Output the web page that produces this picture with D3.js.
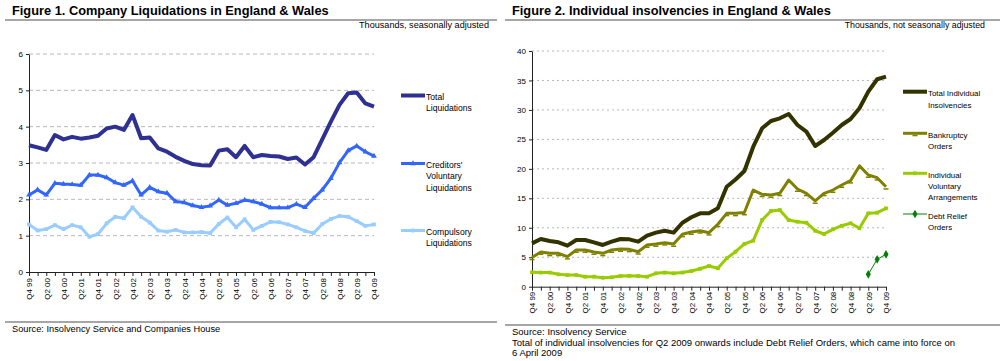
<!DOCTYPE html>
<html>
<head>
<meta charset="utf-8">
<script src="https://cdn.jsdelivr.net/npm/d3@7"></script>
<style>
  body { margin: 0; background: #fff; }
  text { font-family: Arial, "Liberation Sans", sans-serif; fill: #000; }
</style>
</head>
<body>
<svg id="chart" width="1000" height="361"></svg>
<script>
// quarters shown on both charts
var quarters = ["Q4 99","Q1 00","Q2 00","Q3 00","Q4 00","Q1 01","Q2 01","Q3 01","Q4 01",
  "Q1 02","Q2 02","Q3 02","Q4 02","Q1 03","Q2 03","Q3 03","Q4 03","Q1 04","Q2 04","Q3 04","Q4 04",
  "Q1 05","Q2 05","Q3 05","Q4 05","Q1 06","Q2 06","Q3 06","Q4 06","Q1 07","Q2 07","Q3 07","Q4 07",
  "Q1 08","Q2 08","Q3 08","Q4 08","Q1 09","Q2 09","Q3 09","Q4 09"];

// Figure 1 - thousands, seasonally adjusted
var totalLiq = [3.49,3.43,3.36,3.77,3.65,3.72,3.67,3.70,3.75,3.95,4.00,3.91,4.32,3.68,3.70,3.40,3.31,
  3.17,3.06,2.97,2.94,2.93,3.34,3.38,3.16,3.47,3.16,3.22,3.19,3.18,3.11,3.15,2.96,3.16,3.65,4.14,
  4.60,4.92,4.94,4.64,4.55];
var creditorsLiq = [2.12,2.26,2.12,2.44,2.42,2.41,2.39,2.67,2.67,2.60,2.46,2.39,2.51,2.12,2.33,2.21,
  2.17,1.94,1.91,1.83,1.78,1.82,1.98,1.84,1.89,1.98,1.94,1.87,1.77,1.77,1.77,1.87,1.78,2.03,2.26,
  2.58,3.01,3.34,3.47,3.31,3.19];
var compulsoryLiq = [1.31,1.14,1.18,1.29,1.18,1.29,1.23,0.97,1.04,1.34,1.52,1.48,1.78,1.52,1.36,1.14,
  1.11,1.16,1.09,1.09,1.10,1.07,1.32,1.50,1.23,1.45,1.16,1.27,1.38,1.37,1.31,1.23,1.13,1.07,1.32,
  1.46,1.54,1.52,1.40,1.27,1.31];
var liqTicks = [0,1,2,3,4,5,6];

// Figure 2 - thousands, not seasonally adjusted
var totalInd = [7.36,8.10,7.76,7.53,6.96,7.93,7.93,7.53,7.08,7.64,8.10,8.04,7.64,8.66,9.17,9.50,9.17,
  10.86,11.78,12.45,12.45,13.30,16.97,18.20,19.64,23.76,26.88,28.12,28.58,29.31,27.44,26.31,23.88,
  24.90,26.14,27.44,28.46,30.28,33.10,35.20,35.64];
var bankruptcy = [4.98,5.89,5.66,5.66,5.10,6.23,6.23,5.89,5.66,6.23,6.40,6.34,5.94,7.08,7.25,7.47,7.25,
  8.89,9.28,9.50,9.17,10.60,12.45,12.45,12.60,16.40,15.68,15.56,15.85,18.10,16.58,15.85,14.55,15.85,
  16.40,17.26,18.00,20.50,18.96,18.50,16.97];
var iva = [2.44,2.40,2.40,2.10,1.98,1.98,1.70,1.70,1.53,1.60,1.81,1.85,1.81,1.70,2.27,2.40,2.27,2.40,
  2.66,3.05,3.51,3.12,4.82,5.94,7.25,7.81,11.32,12.85,13.02,11.32,11.03,10.86,9.50,8.94,9.74,10.35,
  10.76,9.91,12.45,12.56,13.30];
var debtRelief = [null,null,null,null,null,null,null,null,null,null,null,null,null,null,null,null,null,
  null,null,null,null,null,null,null,null,null,null,null,null,null,null,null,null,null,null,null,null,
  null,2.10,4.65,5.50];
var indTicks = [0,5,10,15,20,25,30,35,40];

var svg = d3.select("#chart");

// frame text and rules for one figure
function drawFrame(f) {
  svg.append("text").attr("x", f.left + 7).attr("y", 14.5)
     .style("font-size", "12.8px").style("font-weight", "bold").text(f.title);
  svg.append("rect").attr("x", f.left).attr("y", 19).attr("width", f.width).attr("height", 2)
     .attr("fill", "#a6a6a6");
  svg.append("text").attr("x", f.unitX).attr("y", 27.5).attr("text-anchor", "end")
     .style("font-size", f.unitSize).text(f.unit);
  svg.append("rect").attr("x", f.left).attr("y", f.ruleY).attr("width", f.width).attr("height", 2)
     .attr("fill", "#a6a6a6");
  f.notes.forEach(function(n, i) {
    svg.append("text").attr("x", f.left + 7).attr("y", f.ruleY + 11 + i * 10.5)
       .style("font-size", f.noteSize).text(n);
  });
}

function drawPanel(p) {
  var x = d3.scalePoint().domain(quarters).range([p.x0, p.x1]);
  var y = d3.scaleLinear().domain([0, d3.max(p.ticks)]).range([p.y0, p.y1]);

  // gridlines
  svg.append("g").selectAll("line").data(p.ticks.slice(1)).join("line")
     .attr("x1", p.x0).attr("x2", p.x1)
     .attr("y1", function(d) { return y(d); }).attr("y2", function(d) { return y(d); })
     .attr("stroke", "#b8b8b8").attr("stroke-dasharray", p.dash);

  // x axis, label every second quarter
  var gx = svg.append("g").attr("transform", "translate(0," + p.y0 + ")")
     .call(d3.axisBottom(x).tickSize(4).tickSizeOuter(0)
       .tickFormat(function(d, i) { return i % 2 == 0 ? d : ""; }));
  gx.selectAll("line, path").attr("stroke", "#222");
  gx.selectAll("text").attr("transform", "rotate(-90)").attr("text-anchor", "end")
    .attr("x", p.labelGap).attr("y", 0).attr("dy", "0.35em")
    .style("font-size", "8px").style("font-family", "Arial, 'Liberation Sans', sans-serif");

  // y axis
  var gy = svg.append("g").attr("transform", "translate(" + p.x0 + ",0)")
     .call(d3.axisLeft(y).tickValues(p.ticks).tickSize(3).tickSizeOuter(0).tickFormat(d3.format("d")));
  gy.selectAll("line, path").attr("stroke", "#222");
  gy.selectAll("text").style("font-size", "8px")
    .style("font-family", "Arial, 'Liberation Sans', sans-serif");

  p.series.forEach(function(s) {
    var line = d3.line()
       .defined(function(d) { return d != null; })
       .x(function(d, i) { return x(quarters[i]); })
       .y(function(d) { return y(d); });
    svg.append("path").datum(s.values).attr("d", line)
       .attr("fill", "none").attr("stroke", s.color).attr("stroke-width", s.width)
       .attr("stroke-linejoin", "round");
    var pts = s.values.map(function(d, i) { return { q: quarters[i], v: d }; })
                      .filter(function(d) { return d.v != null; });
    if (s.marker) {
      svg.append("g").selectAll("path").data(pts).join("path")
         .attr("transform", function(d) { return "translate(" + x(d.q) + "," + y(d.v) + ")"; })
         .attr("d", markerPath(s.marker))
         .attr("fill", s.color);
    }

    // legend entry
    var lg = svg.append("g");
    lg.append("line").attr("x1", p.legX).attr("x2", p.legX + 24)
      .attr("y1", s.legY).attr("y2", s.legY)
      .attr("stroke", s.color).attr("stroke-width", s.width);
    if (s.marker) {
      lg.append("path").attr("transform", "translate(" + (p.legX + 12) + "," + s.legY + ")")
        .attr("d", markerPath(s.marker)).attr("fill", s.color);
    }
    s.label.forEach(function(t, i) {
      lg.append("text").attr("x", p.legX + 25).attr("y", s.legY + 4.5 + i * 11.3)
        .style("font-size", p.legSize).text(t);
    });
  });
}

function markerPath(kind) {
  if (kind == "triangle") return d3.symbol().type(d3.symbolTriangle).size(14)();
  if (kind == "square") return d3.symbol().type(d3.symbolSquare).size(14)();
  if (kind == "diamond") return d3.symbol().type(d3.symbolDiamond).size(22)();
  if (kind == "dash") return "M-2.5,1.5h5v1.5h-5Z";
  return null;
}

drawFrame({
  left: 5, width: 492, title: "Figure 1. Company Liquidations in England & Wales",
  unit: "Thousands, seasonally adjusted", unitX: 489, unitSize: "9.1px", ruleY: 321,
  noteSize: "9.25px",
  notes: ["Source: Insolvency Service and Companies House"]
});
drawFrame({
  left: 505, width: 495, title: "Figure 2. Individual insolvencies in England & Wales",
  unit: "Thousands, not seasonally adjusted", unitX: 985, unitSize: "8.8px", ruleY: 324,
  noteSize: "9.5px",
  notes: ["Source: Insolvency Service",
          "Total of individual insolvencies for Q2 2009 onwards include Debt Relief Orders, which came into force on",
          "6 April 2009"]
});

drawPanel({
  x0: 29, x1: 374, y0: 272, y1: 54, ticks: liqTicks, dash: "4,3", labelGap: -6,
  legX: 401, legSize: "8.6px",
  series: [
    { values: totalLiq, color: "#2e3092", width: 4, label: ["Total", "Liquidations"], legY: 95.5 },
    { values: creditorsLiq, color: "#3366ff", width: 3, marker: "triangle",
      label: ["Creditors'", "Voluntary", "Liquidations"], legY: 163.5 },
    { values: compulsoryLiq, color: "#99ccff", width: 3, marker: "square",
      label: ["Compulsory", "Liquidations"], legY: 230.5 }
  ]
});

drawPanel({
  x0: 532, x1: 886, y0: 286.7, y1: 51, ticks: indTicks, dash: "2,3", labelGap: -5,
  legX: 903, legSize: "7.9px",
  series: [
    { values: totalInd, color: "#333300", width: 4, label: ["Total Individual", "Insolvencies"], legY: 91.7 },
    { values: bankruptcy, color: "#808000", width: 3, marker: "dash",
      label: ["Bankruptcy", "Orders"], legY: 133.3 },
    { values: iva, color: "#99cc00", width: 3, marker: "square",
      label: ["Individual", "Voluntary", "Arrangements"], legY: 173.3 },
    { values: debtRelief, color: "#008000", width: 1, marker: "diamond",
      label: ["Debt Relief", "Orders"], legY: 214 }
  ]
});
</script>
</body>
</html>
